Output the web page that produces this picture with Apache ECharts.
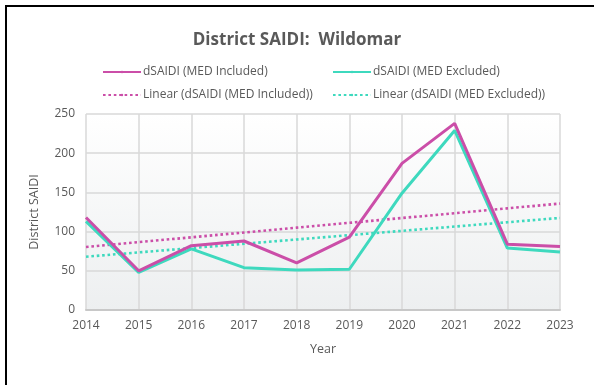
<!DOCTYPE html>
<html>
<head>
<meta charset="utf-8">
<script src="https://cdn.jsdelivr.net/npm/echarts@6/dist/echarts.min.js"></script>
<style>
  html, body { margin: 0; padding: 0; background: #fff; }
  #chart { width: 594px; height: 385px; }
</style>
</head>
<body>
<div id="chart"></div>
<script>
// Annual district SAIDI, Wildomar
const years = ['2014', '2015', '2016', '2017', '2018', '2019', '2020', '2021', '2022', '2023'];
const medIncluded = [118, 50, 82, 88, 60, 93, 187, 238, 84, 81];
const medExcluded = [113, 48, 78, 54, 51, 52, 149, 229, 79, 74];
const yTicks = [0, 50, 100, 150, 200, 250];

// Least-squares linear trend evaluated at each year
function linearTrend(values) {
  const n = values.length;
  const xs = values.map((_, i) => i);
  const mx = xs.reduce((a, b) => a + b, 0) / n;
  const my = values.reduce((a, b) => a + b, 0) / n;
  let sxy = 0, sxx = 0;
  for (let i = 0; i < n; i++) {
    sxy += (xs[i] - mx) * (values[i] - my);
    sxx += (xs[i] - mx) * (xs[i] - mx);
  }
  const slope = sxy / sxx;
  return xs.map(x => +(my + slope * (x - mx)).toFixed(2));
}

const PINK = '#CB4EA8';
const TEAL = '#3ED9BE';
const TEXT = '#595959';
const FONT = 'Open Sans';

const chart = echarts.init(document.getElementById('chart'), null, { renderer: 'canvas' });

const legendBase = {
  orient: 'horizontal',
  itemWidth: 38,
  itemHeight: 3,
  itemGap: 0,
  textStyle: { color: TEXT, fontSize: 12, fontFamily: FONT, padding: [0, 0, 0, -3] },
  selectedMode: false
};

const DOTTED = [2.6, 2.8];

chart.setOption({
  backgroundColor: '#ffffff',
  animation: false,
  title: {
    text: 'District SAIDI:  Wildomar',
    left: 'center',
    top: 27,
    textStyle: { color: TEXT, fontSize: 17, fontWeight: 'bold', fontFamily: FONT }
  },
  legend: [
    Object.assign({}, legendBase, { data: ['dSAIDI (MED Included)'], left: 97, top: 61 }),
    Object.assign({}, legendBase, { data: ['dSAIDI (MED Excluded)'], left: 327, top: 61 }),
    Object.assign({}, legendBase, { data: ['Linear (dSAIDI (MED Included))'], left: 97, top: 84 }),
    Object.assign({}, legendBase, { data: ['Linear (dSAIDI (MED Excluded))'], left: 327, top: 84 })
  ],
  grid: {
    left: 86, right: 34, top: 114, bottom: 75,
    show: true,
    borderWidth: 0,
    backgroundColor: new echarts.graphic.LinearGradient(0, 0, 0, 1, [
      { offset: 0, color: '#ffffff' },
      { offset: 1, color: '#edeff0' }
    ])
  },
  xAxis: {
    type: 'category',
    data: years,
    boundaryGap: false,
    name: 'Year',
    nameLocation: 'middle',
    nameGap: 33,
    nameTextStyle: { color: TEXT, fontSize: 12.5, fontFamily: FONT },
    axisLine: { show: true, lineStyle: { color: '#c8c8c8', width: 2 } },
    axisTick: { show: false },
    axisLabel: { color: TEXT, fontSize: 12, fontFamily: FONT, margin: 10 },
    splitLine: { show: true, lineStyle: { color: '#d9d9d9', width: 1.5 } }
  },
  yAxis: {
    type: 'value',
    min: yTicks[0],
    max: yTicks[yTicks.length - 1],
    interval: 50,
    name: 'District SAIDI',
    nameLocation: 'middle',
    nameGap: 45,
    nameRotate: 90,
    nameTextStyle: { color: TEXT, fontSize: 12.5, fontFamily: FONT },
    axisLine: { show: false },
    axisTick: { show: false },
    axisLabel: { color: TEXT, fontSize: 12, fontFamily: FONT, margin: 11 },
    splitLine: { show: true, lineStyle: { color: '#d9d9d9', width: 1.5 } }
  },
  series: [
    {
      name: 'Linear (dSAIDI (MED Included))',
      type: 'line',
      data: linearTrend(medIncluded),
      symbol: 'none',
      z: 2,
      itemStyle: { color: PINK },
      lineStyle: { color: PINK, width: 2.6, type: DOTTED }
    },
    {
      name: 'Linear (dSAIDI (MED Excluded))',
      type: 'line',
      data: linearTrend(medExcluded),
      symbol: 'none',
      z: 2,
      itemStyle: { color: TEAL },
      lineStyle: { color: TEAL, width: 2.6, type: DOTTED }
    },
    {
      name: 'dSAIDI (MED Excluded)',
      type: 'line',
      data: medExcluded,
      symbol: 'none',
      z: 3,
      itemStyle: { color: TEAL },
      lineStyle: { color: TEAL, width: 3 }
    },
    {
      name: 'dSAIDI (MED Included)',
      type: 'line',
      data: medIncluded,
      symbol: 'none',
      z: 4,
      itemStyle: { color: PINK },
      lineStyle: { color: PINK, width: 3 }
    }
  ],
  graphic: [
    // frame: top and left edges
    { type: 'line', shape: { x1: 5, y1: 6, x2: 594, y2: 6 }, style: { stroke: '#000', lineWidth: 2 }, silent: true },
    { type: 'line', shape: { x1: 6, y1: 5, x2: 6, y2: 385 }, style: { stroke: '#000', lineWidth: 2 }, silent: true }
  ]
});
</script>
</body>
</html>
